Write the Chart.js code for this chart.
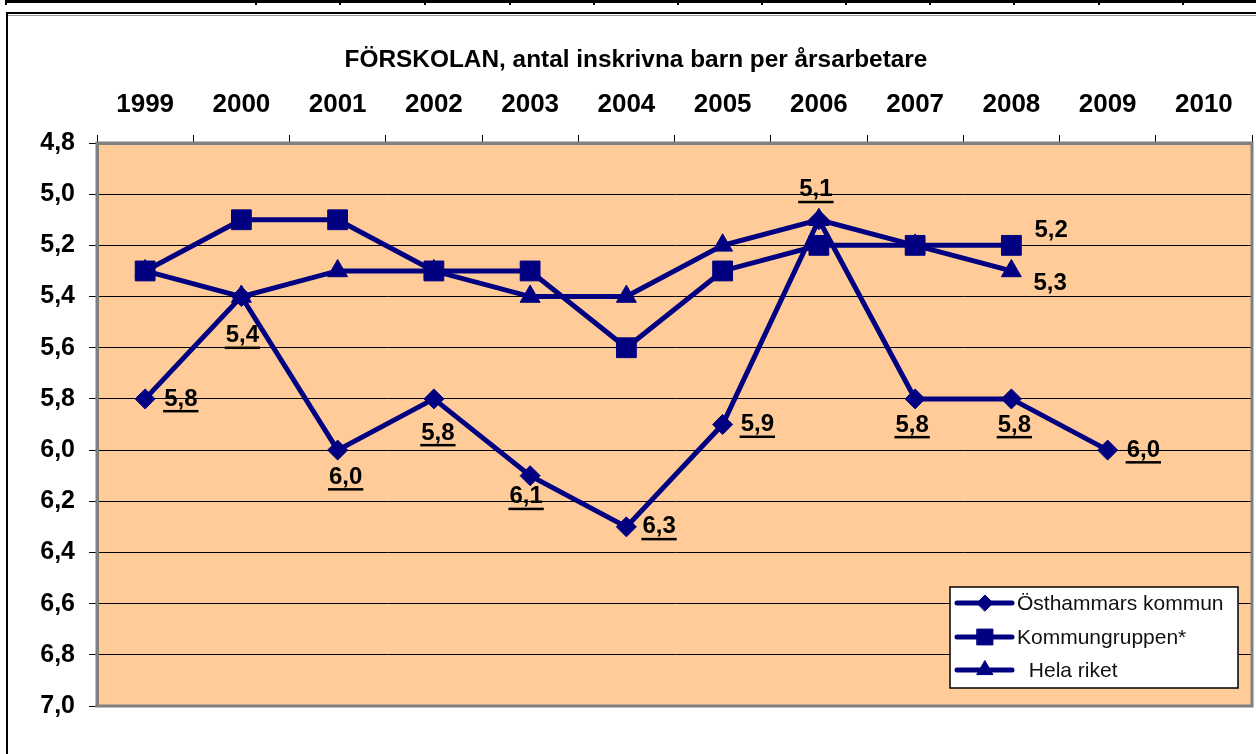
<!DOCTYPE html>
<html>
<head>
<meta charset="utf-8">
<title>FÖRSKOLAN</title>
<script src="https://cdn.jsdelivr.net/npm/chart.js@4/dist/chart.umd.min.js"></script>
<style>
  html, body { margin: 0; padding: 0; background: #fff; }
  #wrap { position: relative; width: 1256px; height: 754px; }
</style>
</head>
<body>
<div id="wrap"><canvas id="chart" width="1256" height="754"></canvas></div>
<script>
// --- data ---
const years = ['1999', '2000', '2001', '2002', '2003', '2004', '2005', '2006', '2007', '2008', '2009', '2010'];
const osthammar = [5.8, 5.4, 6.0, 5.8, 6.1, 6.3, 5.9, 5.1, 5.8, 5.8, 6.0, null];
const kommungruppen = [5.3, 5.1, 5.1, 5.3, 5.3, 5.6, 5.3, 5.2, 5.2, 5.2, null, null];
const helaRiket = [5.3, 5.4, 5.3, 5.3, 5.4, 5.4, 5.2, 5.1, 5.2, 5.3, null, null];
const yTicks = [4.8, 5.0, 5.2, 5.4, 5.6, 5.8, 6.0, 6.2, 6.4, 6.6, 6.8, 7.0];

const TITLE = 'FÖRSKOLAN, antal inskrivna barn per årsarbetare';
const NAVY = '#000080';
const FONT = 'Arial, "Liberation Sans", sans-serif';

const fmt = (v) => (Math.round(v * 10) / 10).toFixed(1).replace('.', ',');

// label placement per point: [datasetIndex, dataIndex, dx, dy, align, underline]
const labelSpots = [
  [0, 0, 19, 0, 'left', true],
  [0, 1, 1, 39, 'center', true],
  [0, 2, 8, 27, 'center', true],
  [0, 3, 4, 34, 'center', true],
  [0, 4, -4, 21, 'center', true],
  [0, 5, 16, 0, 'left', true],
  [0, 6, 18, 0, 'left', true],
  [0, 7, -3, -30, 'center', true],
  [0, 8, -3, 26, 'center', true],
  [0, 9, 3, 26, 'center', true],
  [0, 10, 19, 0, 'left', true],
  [1, 9, 23, -15, 'left', false],
  [2, 9, 22, 12, 'left', false],
];

/* ---------- page furniture: frame, title, plot fill ---------- */
const framePlugin = {
  id: 'frame',
  beforeDraw(chart) {
    const { ctx, chartArea: a } = chart;
    ctx.save();
    ctx.fillStyle = '#fff';
    ctx.fillRect(0, 0, chart.width, chart.height);

    // table border strip at the very top
    ctx.fillStyle = '#000';
    ctx.fillRect(5, 0, chart.width - 5, 3);
    [6, 256, 340, 425, 510, 594, 678, 762, 846, 930, 1014, 1099, 1183].forEach((x) => ctx.fillRect(x - 1, 0, 2, 5));

    // chart frame
    ctx.strokeStyle = '#000';
    ctx.lineWidth = 2;
    ctx.strokeRect(7, 13, chart.width + 10, chart.height + 10);
    ctx.strokeStyle = '#999';
    ctx.lineWidth = 1;
    ctx.beginPath();
    ctx.moveTo(8, 15.5); ctx.lineTo(chart.width, 15.5);
    ctx.stroke();

    // plot background
    ctx.fillStyle = '#FFCC99';
    ctx.fillRect(a.left, a.top, a.right - a.left, a.bottom - a.top);

    // title
    ctx.fillStyle = '#000';
    ctx.font = 'bold 24.4px ' + FONT;
    ctx.textAlign = 'center';
    ctx.textBaseline = 'middle';
    ctx.fillText(TITLE, 636, 60);
    ctx.restore();
  },
  beforeDatasetsDraw(chart) {
    const { ctx, chartArea: a } = chart;
    ctx.save();
    ctx.strokeStyle = '#808080';
    ctx.lineWidth = 3;
    ctx.strokeRect(a.left, a.top, a.right - a.left, a.bottom - a.top);
    ctx.restore();
  },
};

/* ---------- value labels ---------- */
const labelPlugin = {
  id: 'valueLabels',
  afterDatasetsDraw(chart) {
    const { ctx } = chart;
    ctx.save();
    ctx.font = 'bold 24px ' + FONT;
    ctx.fillStyle = '#000';
    ctx.textBaseline = 'middle';
    labelSpots.forEach(([ds, i, dx, dy, align, underline]) => {
      const pt = chart.getDatasetMeta(ds).data[i];
      const v = chart.data.datasets[ds].data[i];
      if (!pt || v == null) return;
      const txt = fmt(v);
      const x = pt.x + dx;
      const y = pt.y + dy;
      ctx.textAlign = align;
      ctx.fillText(txt, x, y);
      if (underline) {
        const w = ctx.measureText(txt).width;
        const x0 = align === 'center' ? x - w / 2 : x;
        ctx.fillRect(x0 - 1, y + 11, w + 2, 2.5);
      }
    });
    ctx.restore();
  },
};

/* ---------- legend box inside plot ---------- */
const legendPlugin = {
  id: 'boxLegend',
  afterDraw(chart) {
    const { ctx } = chart;
    const box = { x: 950, y: 587, w: 288, h: 101 };
    ctx.save();
    ctx.fillStyle = '#fff';
    ctx.fillRect(box.x, box.y, box.w, box.h);
    ctx.strokeStyle = '#000';
    ctx.lineWidth = 1.5;
    ctx.strokeRect(box.x, box.y, box.w, box.h);
    const rows = [603, 637, 670];
    const textX = [1017, 1017, 1023];
    ctx.font = '21px ' + FONT;
    ctx.textAlign = 'left';
    ctx.textBaseline = 'middle';
    chart.data.datasets.forEach((ds, k) => {
      const y = rows[k];
      ctx.strokeStyle = ds.borderColor;
      ctx.lineWidth = 5;
      ctx.lineCap = 'round';
      ctx.beginPath();
      ctx.moveTo(957, y); ctx.lineTo(1012, y);
      ctx.stroke();
      ctx.fillStyle = ds.pointBackgroundColor;
      ctx.strokeStyle = ds.pointBorderColor;
      ctx.lineWidth = 1;
      Chart.helpers.drawPoint(ctx, { pointStyle: ds.pointStyle, radius: ds.pointRadius * 0.8, borderWidth: 1, rotation: 0 }, 985, y);
      ctx.fillStyle = '#111';
      ctx.fillText(ds.label, textX[k], y + 1);
    });
    ctx.restore();
  },
};

function series(label, data, style, radius) {
  return {
    label,
    data,
    borderColor: NAVY,
    backgroundColor: NAVY,
    borderWidth: 5,
    tension: 0,
    pointStyle: style,
    pointRadius: radius,
    pointHoverRadius: radius,
    pointBackgroundColor: NAVY,
    pointBorderColor: NAVY,
    pointBorderWidth: 1,
  };
}

new Chart(document.getElementById('chart'), {
  type: 'line',
  data: {
    labels: years,
    datasets: [
      series('Östhammars kommun', osthammar, 'rectRot', 10),
      series('Kommungruppen*', kommungruppen, 'rect', 14),
      series(' Hela riket', helaRiket, 'triangle', 11.5),
    ],
  },
  plugins: [framePlugin, labelPlugin, legendPlugin],
  options: {
    responsive: false,
    animation: false,
    events: [],
    layout: { autoPadding: false, padding: { top: 0, left: 0, right: 4, bottom: 48 } },
    plugins: { legend: { display: false }, title: { display: false }, tooltip: { enabled: false } },
    scales: {
      x: {
        type: 'category',
        position: 'top',
        offset: true,
        afterFit: (s) => { s.height = 143; s.paddingLeft = 0; s.paddingRight = 0; },
        grid: { offset: true, drawOnChartArea: false, drawTicks: true, tickLength: 8, color: '#000', lineWidth: 1 },
        border: { display: true, color: '#808080', width: 3 },
        ticks: { color: '#000', font: { family: FONT, size: 26, weight: 'bold' }, padding: 15, maxRotation: 0, autoSkip: false },
      },
      y: {
        type: 'linear',
        reverse: true,
        min: yTicks[0],
        max: yTicks[yTicks.length - 1],
        afterFit: (s) => { s.width = 97; s.paddingTop = 0; s.paddingBottom = 0; },
        afterBuildTicks: (s) => { s.ticks = yTicks.map((v) => ({ value: v })); },
        grid: { drawOnChartArea: true, drawTicks: true, tickLength: 8, color: '#000', lineWidth: 1 },
        border: { display: true, color: '#808080', width: 3 },
        ticks: { color: '#000', font: { family: FONT, size: 25, weight: 'bold' }, padding: 14, callback: (v) => fmt(v) },
      },
    },
  },
});
</script>
</body>
</html>
